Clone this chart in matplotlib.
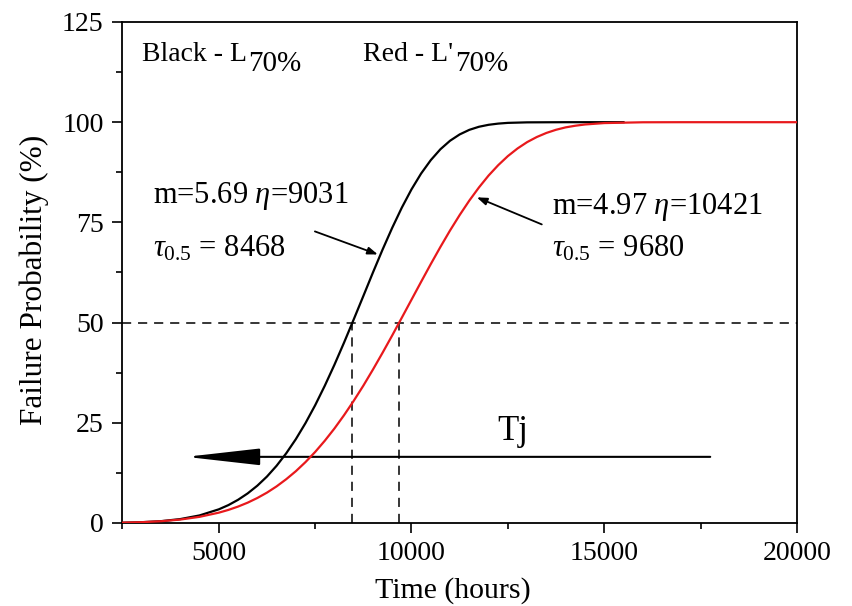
import matplotlib
matplotlib.use("Agg")
import matplotlib.pyplot as plt
from matplotlib.ticker import MultipleLocator

plt.rcParams['font.family'] = ['Liberation Serif', 'DejaVu Serif']
plt.rcParams['mathtext.fontset'] = 'custom'
plt.rcParams['mathtext.rm'] = 'Liberation Serif'
plt.rcParams['mathtext.it'] = 'Liberation Serif:italic'

# ---- data ----
black_x = [2500, 3000, 3500, 4000, 4500, 5000, 5250, 5500, 5750, 6000, 6250, 6500, 6750,
           7000, 7250, 7500, 7750, 8000, 8250, 8500, 8750, 9000, 9250, 9500, 9750,
           10000, 10250, 10500, 10750, 11000, 11250, 11500, 11750, 12000, 12250,
           12500, 13000, 14000, 15500]
black_y = [0.07, 0.19, 0.45, 0.97, 1.88, 3.40, 4.46, 5.78, 7.38, 9.30, 11.58, 14.27, 17.38,
           20.92, 24.92, 29.36, 34.23, 39.46, 45.00, 50.76, 56.61, 62.50, 68.22, 73.65, 78.70,
           83.24, 87.20, 90.53, 93.25, 95.37, 96.95, 98.09, 98.86, 99.35, 99.65,
           99.83, 99.96, 100, 100]

red_x = [2500, 3000, 3500, 4000, 4500, 5000, 5250, 5500, 5750, 6000, 6250, 6500, 6750,
         7000, 7250, 7500, 7750, 8000, 8250, 8500, 8750, 9000, 9250, 9500, 9750,
         10000, 10250, 10500, 10750, 11000, 11250, 11500, 11750, 12000, 12250,
         12500, 12750, 13000, 13250, 13500, 13750, 14000, 14250, 14500, 15000,
         16000, 17000, 20000]
red_y = [0.08, 0.20, 0.44, 0.85, 1.53, 2.57, 3.26, 4.09, 5.07, 6.23, 7.57, 9.13, 10.92,
         12.92, 15.19, 17.71, 20.51, 23.56, 26.89, 30.46, 34.25, 38.28, 42.48, 46.80, 51.24,
         55.71, 60.18, 64.59, 68.87, 72.98, 76.84, 80.44, 83.72, 86.69, 89.28,
         91.54, 93.44, 95.03, 96.30, 97.32, 98.11, 98.71, 99.12, 99.43, 99.78,
         99.98, 100, 100]

median_black = 8468
median_red = 9680
half_level = 50

x_ticks = [5000, 10000, 15000, 20000]
y_ticks = [0, 25, 50, 75, 100, 125]

tj_start = 17750
tj_end = 4150
tj_level = 16.5

# ---- figure ----
fig = plt.figure(figsize=(8.52, 6.06), dpi=100)
ax = fig.add_axes([0.1427, 0.137, 0.9354 - 0.1427, 0.9637 - 0.137])

ax.plot(black_x, black_y, color='black', lw=1.6, zorder=3)
ax.plot(red_x, red_y, color='#e8191c', lw=1.6, zorder=4)

dash = (0, (6, 4.5))
ax.axhline(half_level, color='black', lw=1.1, ls=dash, zorder=2)
ax.plot([median_black, median_black], [0, half_level], color='black', lw=1.1, ls=dash, zorder=2)
ax.plot([median_red, median_red], [0, half_level], color='black', lw=1.1, ls=dash, zorder=2)

ax.set_xlim(2479, 20000)
ax.set_ylim(0, 125)
ax.set_xticks(x_ticks)
ax.set_yticks(y_ticks)
ax.xaxis.set_minor_locator(MultipleLocator(2500))
ax.yaxis.set_minor_locator(MultipleLocator(12.5))
ax.tick_params(which='major', direction='out', length=7, width=1.2, labelsize=20, pad=6)
ax.tick_params(which='minor', direction='out', length=4.5, width=1.2)
for s in ax.spines.values():
    s.set_linewidth(1.3)

ax.set_xlabel('Time (hours)', fontsize=21.5)
ax.set_ylabel('Failure Probability (%)', fontsize=22.5)
ax.xaxis.set_label_coords(0.49, -0.108)
ax.yaxis.set_label_coords(-0.108, 0.485)

# top legend-like texts
ax.text(3000, 115.3, 'Black - L', fontsize=20, va='baseline', ha='left')
ax.text(5757, 112.8, '70%', fontsize=21, va='baseline', ha='left')
ax.text(8739, 115.3, "Red - L'", fontsize=20, va='baseline', ha='left')
ax.text(11124, 112.8, '70%', fontsize=21, va='baseline', ha='left')

# annotations
ax.text(3293, 81.5, r'm=5.69 $\eta$=9031', fontsize=22, va='center', ha='left')
ax.text(3293, 68.3, r'$\tau_{0.5}$ = 8468', fontsize=22, va='center', ha='left')
ax.text(13640, 78.8, r'm=4.97 $\eta$=10421', fontsize=22, va='center', ha='left')
ax.text(13640, 68.3, r'$\tau_{0.5}$ = 9680', fontsize=22, va='center', ha='left')

ax.annotate('', xy=(9127, 67), xytext=(7494, 72.75),
            arrowprops=dict(arrowstyle='-|>,head_length=6,head_width=2.2', color='black',
                            lw=1.3, mutation_scale=1, shrinkA=0, shrinkB=0))
ax.annotate('', xy=(11695, 81.25), xytext=(13380, 74.5),
            arrowprops=dict(arrowstyle='-|>,head_length=6,head_width=2.2', color='black',
                            lw=1.3, mutation_scale=1, shrinkA=0, shrinkB=0))

# Tj arrow
ax.annotate('', xy=(tj_end, tj_level), xytext=(tj_start, tj_level),
            arrowprops=dict(arrowstyle='-|>,head_length=46,head_width=5.2', color='black',
                            lw=1.5, mutation_scale=1, shrinkA=0, shrinkB=0))
ax.text(12628, 22.75, 'Tj', fontsize=25, va='center', ha='center')

fig.savefig('out.png', dpi=100)
